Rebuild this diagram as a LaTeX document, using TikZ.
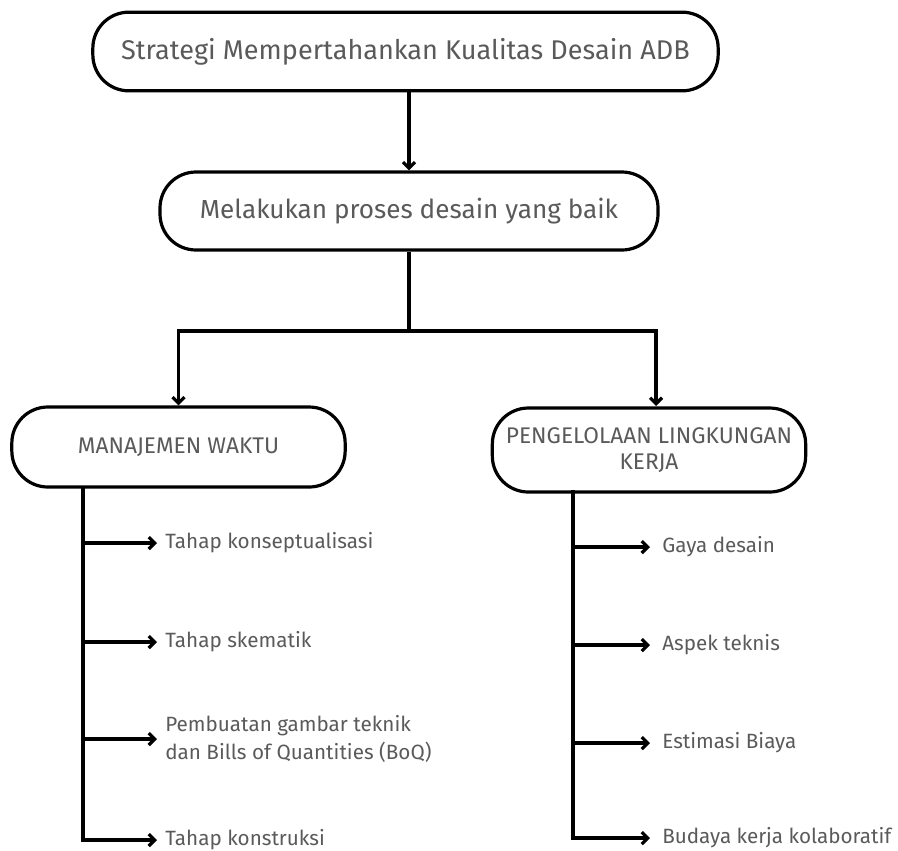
\documentclass[tikz,border=0pt]{standalone}
\usepackage{fontspec}
\setmainfont{Fira Sans}
\usetikzlibrary{arrows.meta}
\definecolor{txt}{HTML}{5a5a5a}
\tikzset{
  pill/.style={draw=black, line width=2.4pt, fill=white, rounded corners=27pt, align=center, text=txt, inner sep=0pt},
  conn/.style={line width=2.8pt, draw=black},
  arr/.style={conn, -{Straight Barb[length=4.5pt,width=9pt,line width=2.4pt]}},
  item/.style={anchor=west, inner sep=0pt, text=txt, font=\fontsize{15.5}{20.5}\selectfont, align=left}
}
\begin{document}
\begin{tikzpicture}[x=0.75pt,y=-0.75pt]
\useasboundingbox (0,0) rectangle (898,850);
\node[pill, minimum width=469pt, minimum height=59pt, font=\fontsize{20.3}{24}\selectfont] (top) at (405.5,51.5) {Strategi Mempertahankan Kualitas Desain ADB};
\node[pill, minimum width=373.5pt, minimum height=58.5pt, font=\fontsize{19.6}{24}\selectfont] (mid) at (409,211) {Melakukan proses desain yang baik};
\node[pill, minimum width=250pt, minimum height=60pt, font=\fontsize{17}{19}\selectfont] (left) at (178.5,447) {MANAJEMEN WAKTU};
\node[pill, minimum width=235pt, minimum height=63pt, font=\fontsize{17}{19}\selectfont] (right) at (649,450) {PENGELOLAAN LINGKUNGAN\\KERJA};
\coordinate (split) at (mid.south |- 0,331);
\coordinate (rN) at (656,406);
\draw[arr] (top.south -| mid.north) -- (mid.north);
\draw[conn] (mid.south) -- (split);
\draw[arr] (split) -| (left.north);
\draw[arr] (split) -| (rN);
% left items
\node[item] (a1) at (165,543) {Tahap konseptualisasi};
\node[item] (a2) at (165,642) {Tahap skematik};
\node[item] (a3) at (165,739) {Pembuatan gambar teknik\\dan Bills of Quantities (BoQ)};
\node[item] (a4) at (165,840) {Tahap konstruksi};
\coordinate (Ltop) at (83,487);
\draw[arr] (Ltop) |- ([xshift=-6pt]a4.west);
\foreach \n in {a1,a2,a3} \draw[arr] (\n.west -| Ltop) -- ([xshift=-6pt]\n.west);
% right items
\node[item] (b1) at (662,547) {Gaya desain};
\node[item] (b2) at (662,645) {Aspek teknis};
\node[item] (b3) at (662,743) {Estimasi Biaya};
\node[item] (b4) at (662,838) {Budaya kerja kolaboratif};
\coordinate (Rtop) at (573,490);
\draw[arr] (Rtop) |- ([xshift=-9pt]b4.west);
\foreach \n in {b1,b2,b3} \draw[arr] (\n.west -| Rtop) -- ([xshift=-9pt]\n.west);
\end{tikzpicture}
\end{document}
